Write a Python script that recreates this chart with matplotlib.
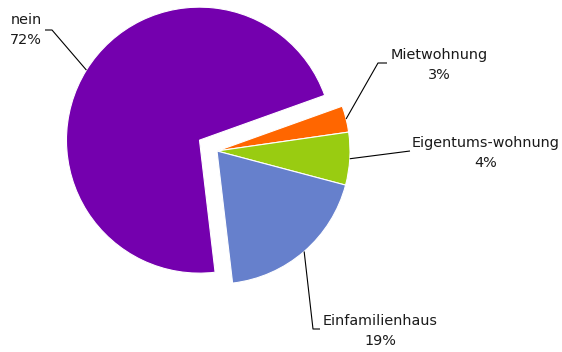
import matplotlib.pyplot as plt
import numpy as np

# slices in drawing order (clockwise from the top of the orange slice)
categories = ["Mietwohnung", "Eigentums-wohnung", "Einfamilienhaus", "nein"]
pct_labels = ["3%", "4%", "19%", "72%"]
# shares
shares = [3.2, 6.4, 19.0, 71.4]
colors = ["#FF6600", "#99CC11", "#6680CC", "#7400AE"]
explode = [0, 0, 0, 0.155]

W, H = 562, 352
R = 133.0          # pie radius in pixels
CX, CY = 217, 151  # pie centre in pixels (from top-left)


def px(x, y):
    """pixel position (from top-left) -> data coords, radius 1 = R px"""
    return (x - CX) / R, (CY - y) / R


fig = plt.figure(figsize=(W / 100, H / 100), dpi=100)
ax = fig.add_axes([0, 0, 1, 1])
wedges, _ = ax.pie(shares, colors=colors, explode=explode, startangle=19.7,
                   counterclock=False, radius=1,
                   wedgeprops=dict(edgecolor="white", linewidth=0.8))
ax.set_xlim(-CX / R, (W - CX) / R)
ax.set_ylim(-(H - CY) / R, CY / R)
ax.set_aspect("equal")
ax.axis("off")

# label text centres (pixels) and the elbow of each leader line
text_pos = [(439, 65), (486, 153), (380, 331), (26, 30)]
elbows = [[(378, 63), (387, 63)],
          [(410, 151)],
          [(313, 329), (320, 329)],
          [(52, 30), (45, 30)]]

for w, cat, pct, tp, elb in zip(wedges, categories, pct_labels, text_pos, elbows):
    ang = np.deg2rad((w.theta1 + w.theta2) / 2)
    cx, cy = w.center
    start = (cx + np.cos(ang), cy + np.sin(ang))
    pts = [start] + [px(*p) for p in elb]
    xs, ys = zip(*pts)
    ax.plot(xs, ys, color="black", lw=0.8, solid_capstyle="butt")
    tx, ty = px(*tp)
    ax.text(tx, ty, cat + "\n" + pct, ha="center", va="center",
            fontsize=10.4, color="#1a1a1a", linespacing=1.5,
            family="DejaVu Sans")

fig.savefig("out.png", dpi=100)
